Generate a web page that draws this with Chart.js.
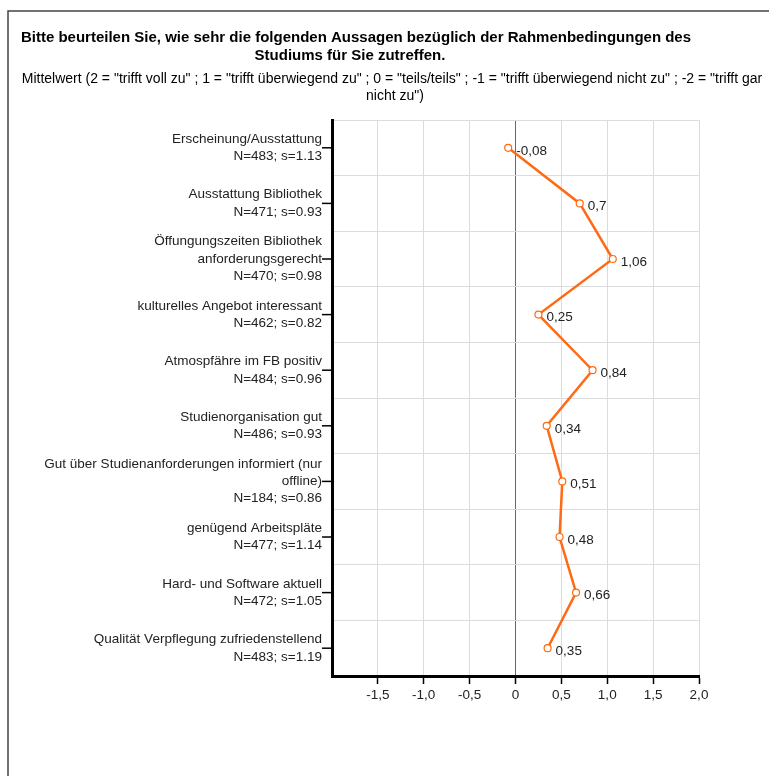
<!DOCTYPE html>
<html>
<head>
<meta charset="utf-8">
<script src="https://cdn.jsdelivr.net/npm/chart.js@4/dist/chart.umd.min.js"></script>
<style>
html,body{margin:0;padding:0;background:#fff;}
canvas{display:block;}
</style>
</head>
<body>
<canvas id="c" width="769" height="776"></canvas>
<script>
const titleLines = ["Bitte beurteilen Sie, wie sehr die folgenden Aussagen bezüglich der Rahmenbedingungen des", "Studiums für Sie zutreffen."];
const subtitleLines = ["Mittelwert (2 = \"trifft voll zu\" ; 1 = \"trifft überwiegend zu\" ; 0 = \"teils/teils\" ; -1 = \"trifft überwiegend nicht zu\" ; -2 = \"trifft gar", "nicht zu\")"];
const itemNames = [
  ["Erscheinung/Ausstattung"],
  ["Ausstattung Bibliothek"],
  ["Öffungungszeiten Bibliothek", "anforderungsgerecht"],
  ["kulturelles Angebot interessant"],
  ["Atmospfähre im FB positiv"],
  ["Studienorganisation gut"],
  ["Gut über Studienanforderungen informiert (nur", "offline)"],
  ["genügend Arbeitspläte"],
  ["Hard- und Software aktuell"],
  ["Qualität Verpflegung zufriedenstellend"]
];
const nValues = [483, 471, 470, 462, 484, 486, 184, 477, 472, 483];
const sValues = ["1.13", "0.93", "0.98", "0.82", "0.96", "0.93", "0.86", "1.14", "1.05", "1.19"];
const meanValues = [-0.08, 0.7, 1.06, 0.25, 0.84, 0.34, 0.51, 0.48, 0.66, 0.35];
const xMin = -2, xMax = 2, xStep = 0.5;

const categories = itemNames.map((lines, i) => lines.concat(["N=" + nValues[i] + "; s=" + sValues[i]]));
const fmt = v => String(v).replace('.', ',');
const FAMILY = '"Liberation Sans", Arial, sans-serif';

const decor = {
  id: 'decor',
  beforeDraw(chart) {
    const ctx = chart.ctx;
    ctx.save();
    ctx.strokeStyle = '#444';
    ctx.lineWidth = 1.5;
    ctx.beginPath();
    ctx.moveTo(8, 776);
    ctx.lineTo(8, 11);
    ctx.lineTo(769, 11);
    ctx.stroke();
    ctx.fillStyle = '#000';
    ctx.textAlign = 'center';
    ctx.textBaseline = 'middle';
    ctx.font = 'bold 15px ' + FAMILY;
    ctx.fillText(titleLines[0], 356, 38);
    ctx.fillText(titleLines[1], 350, 56);
    ctx.font = '14px ' + FAMILY;
    ctx.fillText(subtitleLines[0], 392, 79);
    ctx.fillText(subtitleLines[1], 395, 96);
    ctx.restore();
  },
  afterDraw(chart) {
    const ctx = chart.ctx;
    const y = chart.scales.y;
    const x = chart.scales.x;
    ctx.save();
    ctx.strokeStyle = '#000';
    ctx.lineWidth = 1.5;
    y.ticks.forEach((t, i) => {
      const py = y.getPixelForTick(i);
      ctx.beginPath();
      ctx.moveTo(x.left - 10, py);
      ctx.lineTo(x.left, py);
      ctx.stroke();
    });
    const meta = chart.getDatasetMeta(0);
    ctx.fillStyle = '#222';
    ctx.font = '13.5px ' + FAMILY;
    ctx.textAlign = 'left';
    ctx.textBaseline = 'middle';
    meta.data.forEach((pt, i) => {
      ctx.fillText(fmt(meanValues[i]), pt.x + 8, pt.y + 3);
    });
    ctx.restore();
  }
};

new Chart(document.getElementById('c'), {
  type: 'line',
  data: {
    labels: categories,
    datasets: [{
      data: meanValues,
      borderColor: '#ff6a14',
      borderWidth: 2.5,
      pointRadius: 3.5,
      pointBackgroundColor: '#fff',
      pointBorderColor: '#ff6a14',
      pointBorderWidth: 1.2,
      tension: 0,
      clip: false
    }]
  },
  options: {
    indexAxis: 'y',
    responsive: false,
    animation: false,
    layout: { padding: { top: 120, right: 70, left: 0, bottom: 0 } },
    plugins: { legend: { display: false }, tooltip: { enabled: false } },
    scales: {
      x: {
        type: 'linear',
        min: xMin, max: xMax,
        ticks: {
          stepSize: xStep,
          padding: 3,
          color: '#222',
          font: { family: FAMILY, size: 13.5 },
          callback: v => (v === xMin ? '' : (v === 0 ? '0' : v.toFixed(1).replace('.', ',')))
        },
        grid: {
          color: ctx => (ctx.tick && ctx.tick.value === 0 ? '#666' : '#dcdcdc'),
          lineWidth: 1,
          tickLength: 8,
          tickColor: ctx => (ctx.tick && ctx.tick.value === xMin ? 'rgba(0,0,0,0)' : '#000'),
          tickWidth: 1.5
        },
        border: { display: true, color: '#000', width: 3 },
        afterFit: s => { s.height = 100; }
      },
      y: {
        type: 'category',
        offset: true,
        ticks: {
          padding: 10,
          color: '#222',
          autoSkip: false,
          font: { family: FAMILY, size: 13.5, lineHeight: 1.28 }
        },
        grid: {
          offset: true,
          color: '#dcdcdc',
          lineWidth: 1,
          drawTicks: false
        },
        border: { display: true, color: '#000', width: 3 },
        afterFit: s => { s.width = 332; }
      }
    }
  },
  plugins: [decor]
});
</script>
</body>
</html>
